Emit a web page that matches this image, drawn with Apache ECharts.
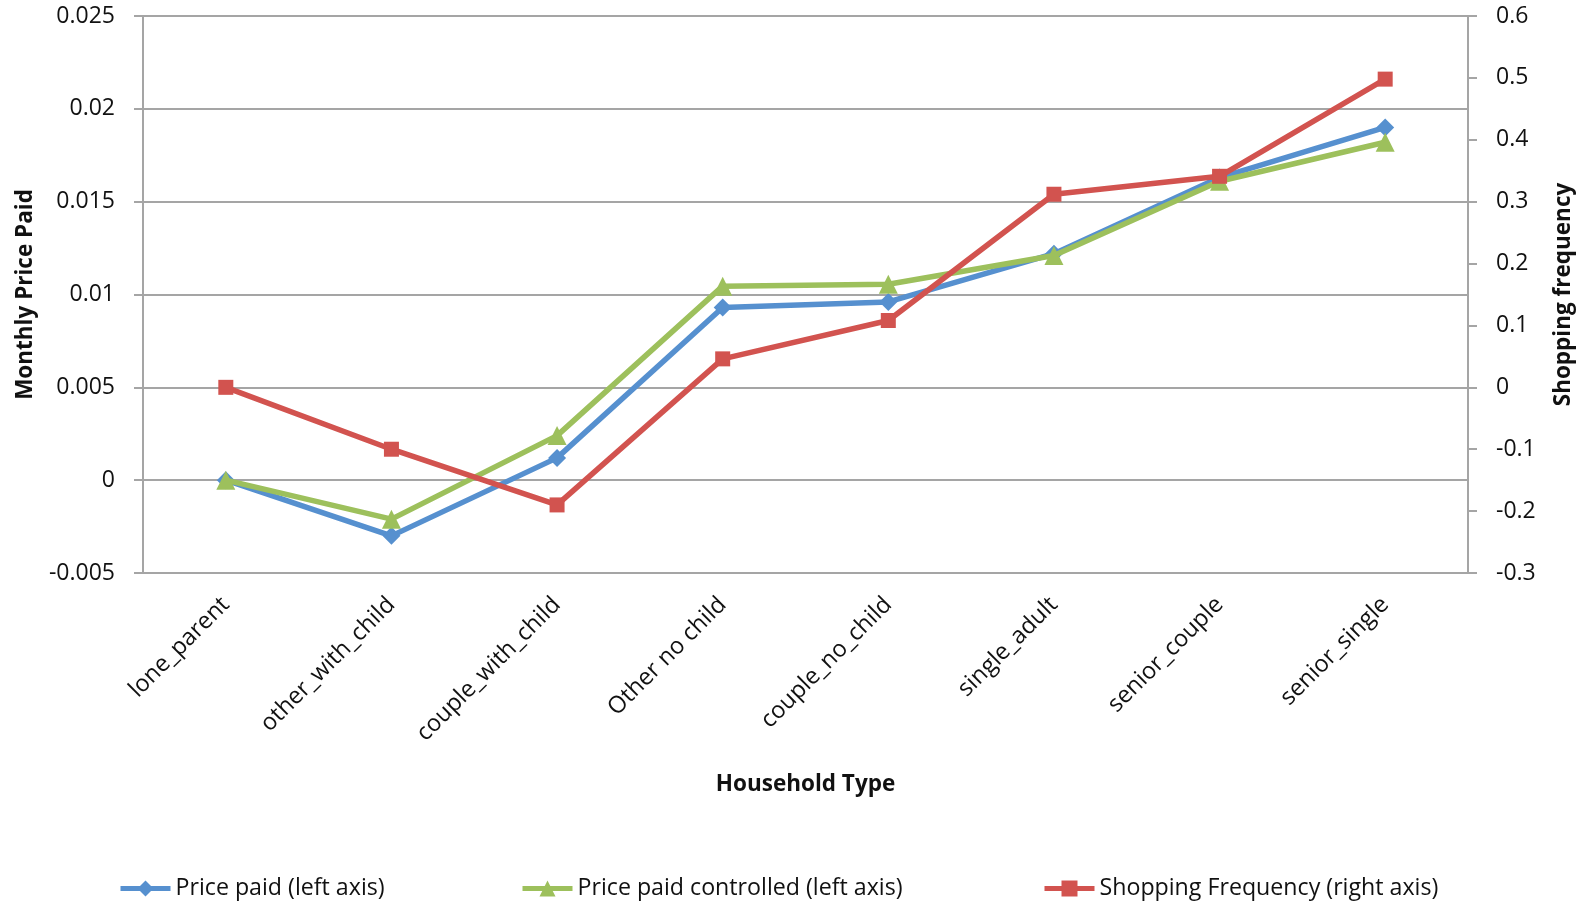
<!DOCTYPE html>
<html>
<head>
<meta charset="utf-8">
<title>Household Type</title>
<script src="https://cdn.jsdelivr.net/npm/echarts@6/dist/echarts.min.js"></script>
<style>
  html, body { margin: 0; padding: 0; background: #ffffff; }
  #chart { width: 1585px; height: 903px; }
</style>
</head>
<body>
<div id="chart"></div>
<script>
// Household categories along the x axis
const categories = ['lone_parent', 'other_with_child', 'couple_with_child', 'Other no child',
  'couple_no_child', 'single_adult', 'senior_couple', 'senior_single'];

// Left axis series: monthly price paid
const pricePaid = [0.0, -0.003, 0.0012, 0.0093, 0.0096, 0.0122, 0.0163, 0.0190];
const pricePaidControlled = [0.0, -0.0021, 0.0024, 0.01045, 0.01055, 0.0121, 0.0161, 0.0182];

// Right axis series: shopping frequency
const shoppingFrequency = [0.0, -0.10, -0.19, 0.046, 0.108, 0.312, 0.341, 0.498];

const seriesNames = ['Price paid (left axis)', 'Price paid controlled (left axis)',
  'Shopping Frequency (right axis)'];

const FONT = '"Open Sans", "Liberation Sans", sans-serif';
const GRID_GREY = '#A5A5A5';
const TEXT = '#111111';

const chart = echarts.init(document.getElementById('chart'));

function legendAt(name, left) {
  return {
    data: [name],
    left: left,
    top: 872,
    itemWidth: 50,
    itemHeight: 20,
    itemGap: 0,
    lineStyle: { width: 5 },
    textStyle: { fontFamily: FONT, fontSize: 23.2, color: TEXT, padding: [0, 0, 0, 0] }
  };
}

chart.setOption({
  animation: false,
  backgroundColor: '#ffffff',
  grid: { left: 143, right: 117, top: 16, bottom: 330, containLabel: false },
  legend: [
    legendAt(seriesNames[0], 113),
    legendAt(seriesNames[1], 515),
    legendAt(seriesNames[2], 1037)
  ],
  xAxis: {
    type: 'category',
    data: categories,
    boundaryGap: true,
    name: 'Household Type',
    nameLocation: 'middle',
    nameGap: 200,
    nameTextStyle: { fontFamily: FONT, fontSize: 22.5, fontWeight: 'bold', color: TEXT },
    axisLine: { lineStyle: { color: GRID_GREY, width: 2 } },
    axisTick: { show: false },
    axisLabel: {
      rotate: 45,
      margin: 28,
      fontFamily: FONT,
      fontSize: 23.5,
      color: TEXT
    }
  },
  yAxis: [
    {
      type: 'value',
      position: 'left',
      min: -0.005,
      max: 0.025,
      interval: 0.005,
      name: 'Monthly Price Paid',
      nameLocation: 'middle',
      nameRotate: 90,
      nameGap: 106,
      nameTextStyle: { fontFamily: FONT, fontSize: 22.5, fontWeight: 'bold', color: TEXT },
      axisLine: { show: true, lineStyle: { color: GRID_GREY, width: 2 } },
      axisTick: { show: true, inside: false, length: 9, lineStyle: { color: GRID_GREY, width: 2 } },
      splitLine: { show: true, lineStyle: { color: GRID_GREY, width: 2 } },
      axisLabel: {
        margin: 28,
        fontFamily: FONT,
        fontSize: 23,
        color: TEXT,
        formatter: v => String(parseFloat(v.toFixed(3)))
      }
    },
    {
      type: 'value',
      position: 'right',
      min: -0.3,
      max: 0.6,
      interval: 0.1,
      name: 'Shopping frequency',
      nameLocation: 'middle',
      nameRotate: 90,
      nameGap: 84,
      nameTextStyle: { fontFamily: FONT, fontSize: 22.5, fontWeight: 'bold', color: TEXT },
      axisLine: { show: true, lineStyle: { color: GRID_GREY, width: 2 } },
      axisTick: { show: true, inside: false, length: 9, lineStyle: { color: GRID_GREY, width: 2 } },
      splitLine: { show: false },
      axisLabel: {
        margin: 28,
        fontFamily: FONT,
        fontSize: 23,
        color: TEXT,
        formatter: v => String(parseFloat(v.toFixed(1)))
      }
    }
  ],
  series: [
    {
      name: seriesNames[0],
      type: 'line',
      yAxisIndex: 0,
      data: pricePaid,
      symbol: 'diamond',
      symbolSize: 18,
      lineStyle: { color: '#5690CF', width: 5.5 },
      itemStyle: { color: '#5690CF' },
      z: 3
    },
    {
      name: seriesNames[1],
      type: 'line',
      yAxisIndex: 0,
      data: pricePaidControlled,
      symbol: 'triangle',
      symbolSize: 19,
      lineStyle: { color: '#9DC05C', width: 5.5 },
      itemStyle: { color: '#9DC05C' },
      z: 4
    },
    {
      name: seriesNames[2],
      type: 'line',
      yAxisIndex: 1,
      data: shoppingFrequency,
      symbol: 'rect',
      symbolSize: 15,
      lineStyle: { color: '#D2534F', width: 5.5 },
      itemStyle: { color: '#D2534F' },
      z: 5
    }
  ]
});
</script>
</body>
</html>
